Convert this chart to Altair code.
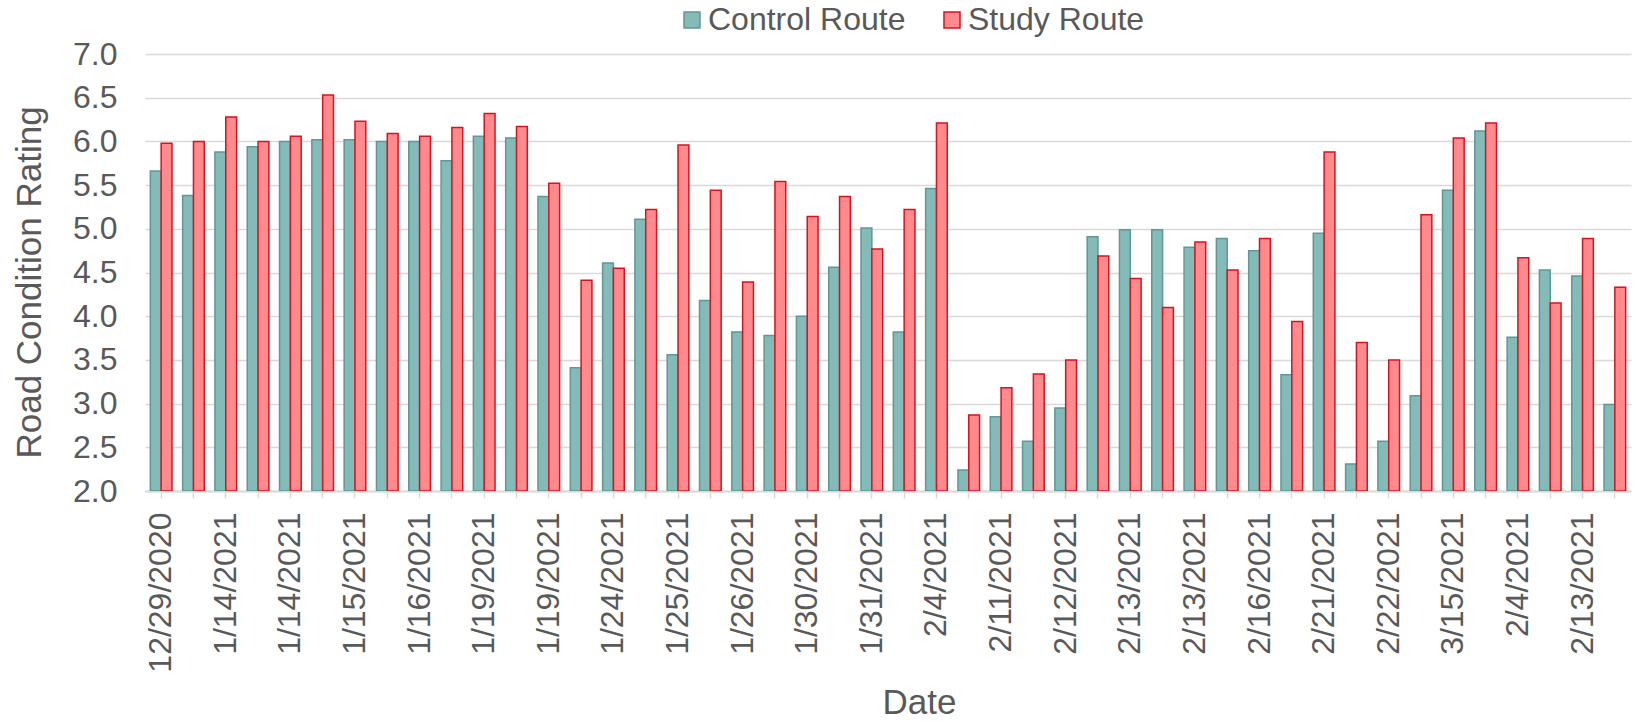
import json

import altair as alt
import pandas as pd

FONT = "Liberation Sans"
TEXT = "#595959"
GRID = "#D9D9D9"

series_names = ["Control Route", "Study Route"]
fill_colors = ["#84BAB8", "#FF8A8E"]
edge_colors = ["#5E9997", "#D5141E"]

# Road condition ratings per survey, in chronological order of the runs
control = [5.66, 5.38, 5.88, 5.94, 6.00, 6.02, 6.02, 6.00, 6.00, 5.78,
           6.06, 6.04, 5.37, 3.41, 4.61, 5.11, 3.56, 4.18, 3.82, 3.78,
           4.00, 4.56, 5.01, 3.82, 5.46, 2.24, 2.85, 2.57, 2.95, 4.91,
           4.99, 4.99, 4.79, 4.89, 4.75, 3.33, 4.95, 2.31, 2.57, 3.09,
           5.44, 6.12, 3.76, 4.53, 4.46, 2.99]
study = [5.98, 6.00, 6.28, 6.00, 6.06, 6.53, 6.23, 6.09, 6.06, 6.16,
         6.32, 6.17, 5.52, 4.41, 4.55, 5.22, 5.96, 5.44, 4.39, 5.54,
         5.14, 5.37, 4.77, 5.22, 6.21, 2.87, 3.18, 3.34, 3.50, 4.69,
         4.43, 4.10, 4.85, 4.53, 4.89, 3.94, 5.88, 3.70, 3.50, 5.16,
         6.04, 6.21, 4.67, 4.15, 4.89, 4.33]

# Axis labels shown on every other run
date_labels = ["12/29/2020", "1/14/2021", "1/14/2021", "1/15/2021", "1/16/2021",
               "1/19/2021", "1/19/2021", "1/24/2021", "1/25/2021", "1/26/2021",
               "1/30/2021", "1/31/2021", "2/4/2021", "2/11/2021", "2/12/2021",
               "2/13/2021", "2/13/2021", "2/16/2021", "2/21/2021", "2/22/2021",
               "3/15/2021", "2/4/2021", "2/13/2021"]

y_ticks = [2.0, 2.5, 3.0, 3.5, 4.0, 4.5, 5.0, 5.5, 6.0, 6.5, 7.0]

rows = []
for i, (c, s) in enumerate(zip(control, study)):
    rows.append({"run": i, "series": series_names[0], "rating": c})
    rows.append({"run": i, "series": series_names[1], "rating": s})
df = pd.DataFrame(rows)

label_expr = (
    f"datum.value % 2 == 0 ? {json.dumps(date_labels)}[datum.value / 2] : ''"
)

legend = alt.Legend(
    orient="none",
    legendX=531,
    legendY=-50,
    direction="horizontal",
    title=None,
    labelFont=FONT,
    labelFontSize=32,
    labelColor=TEXT,
    labelLimit=400,
    labelOffset=0,
    symbolType="square",
    symbolSize=256,
    symbolStrokeWidth=1.5,
    columnPadding=30,
    padding=0,
)

chart = (
    alt.Chart(df)
    .mark_bar(strokeWidth=1.5, clip=True)
    .encode(
        x=alt.X(
            "run:O",
            scale=alt.Scale(paddingInner=0.33, paddingOuter=0.165),
            axis=alt.Axis(
                title="Date",
                titleFont=FONT,
                titleFontSize=35,
                titleFontWeight="normal",
                titleColor=TEXT,
                titleX=774,
                titleY=222,
                titleAlign="center",
                titleBaseline="alphabetic",
                labelExpr=label_expr,
                labelAngle=270,
                labelFont=FONT,
                labelFontSize=32,
                labelColor=TEXT,
                labelPadding=14,
                labelOverlap=False,
                domainColor=GRID,
                domainWidth=2,
                ticks=True,
                tickColor=GRID,
                tickSize=7,
                tickWidth=1.5,
                grid=False,
            ),
        ),
        xOffset=alt.XOffset(
            "series:N",
            sort=series_names,
            scale=alt.Scale(paddingInner=0, paddingOuter=0),
        ),
        y=alt.Y(
            "rating:Q",
            scale=alt.Scale(domain=[2, 7], zero=False, nice=False),
            axis=alt.Axis(
                title="Road Condition Rating",
                titleFont=FONT,
                titleFontSize=35,
                titleFontWeight="normal",
                titleColor=TEXT,
                titleX=-105,
                titleY=228,
                titleAlign="center",
                titleBaseline="alphabetic",
                values=y_ticks,
                format=".1f",
                labelFont=FONT,
                labelFontSize=32,
                labelColor=TEXT,
                labelPadding=28,
                domain=False,
                ticks=False,
                tickSize=0,
                grid=True,
                gridColor=GRID,
                gridWidth=1.5,
            ),
        ),
        y2=alt.datum(2),
        fill=alt.Fill(
            "series:N",
            sort=series_names,
            scale=alt.Scale(domain=series_names, range=fill_colors),
            legend=legend,
        ),
        stroke=alt.Stroke(
            "series:N",
            sort=series_names,
            scale=alt.Scale(domain=series_names, range=edge_colors),
            legend=legend,
        ),
    )
    .properties(
        width=1486,
        height=437,
        padding={"left": 145, "top": 54, "right": 5, "bottom": 231},
        autosize=alt.AutoSizeParams(type="none"),
        background="white",
    )
    .configure_view(stroke=None)
)

chart.save("out.html", embed_options={"renderer": "svg", "actions": False})
